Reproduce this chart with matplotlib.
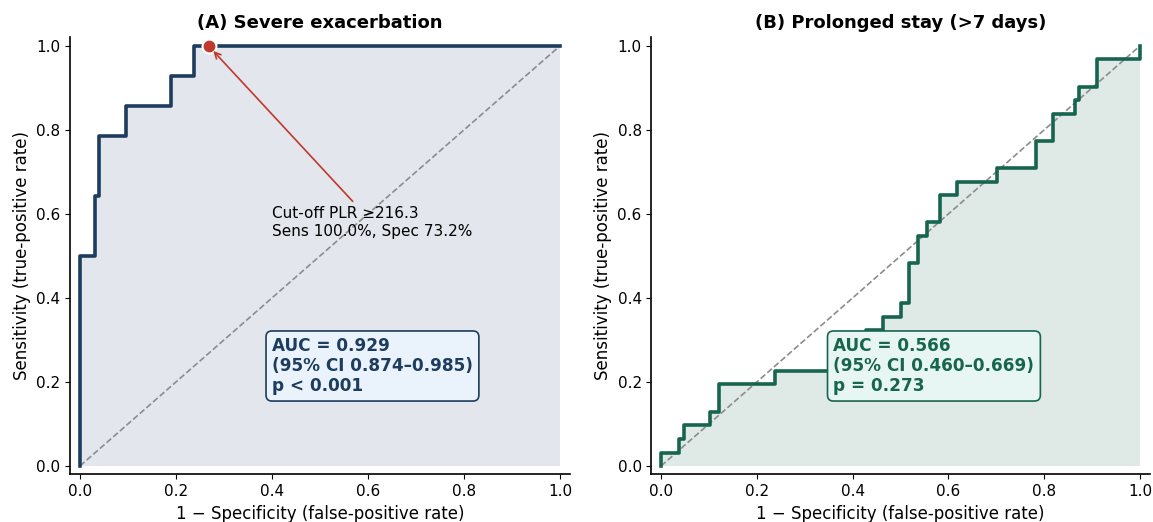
#!/usr/bin/env python3
import numpy as np
from matplotlib import pyplot as plt

# ROC steps (false-positive rate, sensitivity)
fpr_a = [0.0, 0.0, 0.031, 0.031, 0.039, 0.039, 0.096, 0.096, 0.190, 0.190, 0.237, 0.237, 1.0]
tpr_a = [0.0, 0.5, 0.5, 0.643, 0.643, 0.786, 0.786, 0.857, 0.857, 0.929, 0.929, 1.0, 1.0]

fpr_b = [0.0, 0.0, 0.038, 0.038, 0.047, 0.047, 0.102, 0.102, 0.122, 0.122, 0.238, 0.238,
         0.429, 0.429, 0.464, 0.464, 0.501, 0.501, 0.518, 0.518, 0.537, 0.537, 0.555, 0.555,
         0.582, 0.582, 0.619, 0.619, 0.702, 0.702, 0.783, 0.783, 0.819, 0.819, 0.864, 0.864,
         0.873, 0.873, 0.910, 0.910, 1.0, 1.0]
tpr_b = [0.0, 0.032, 0.032, 0.065, 0.065, 0.097, 0.097, 0.129, 0.129, 0.194, 0.194, 0.226,
         0.226, 0.323, 0.323, 0.355, 0.355, 0.387, 0.387, 0.484, 0.484, 0.548, 0.548, 0.581,
         0.581, 0.645, 0.645, 0.677, 0.677, 0.710, 0.710, 0.774, 0.774, 0.839, 0.839, 0.871,
         0.871, 0.903, 0.903, 0.968, 0.968, 1.0]

cut_fpr, cut_tpr = 0.268, 1.0
titles = ['(A) Severe exacerbation', '(B) Prolonged stay (>7 days)']
auc_text = ['AUC = 0.929\n(95% CI 0.874\u20130.985)\np < 0.001',
            'AUC = 0.566\n(95% CI 0.460\u20130.669)\np = 0.273']
colors = ['#1d3c5e', '#17654f']
fills = ['#e3e6ec', '#dfe9e6']
box_faces = ['#eaf3fb', '#e7f6f2']
box_x = [0.40, 0.36]

fig = plt.figure(figsize=(11.53, 5.22), dpi=100)
ax1 = fig.add_axes([0.061, 0.0912, 0.433, 0.837])
ax2 = fig.add_axes([0.565, 0.0912, 0.432, 0.837])

for i, (ax, fx, ty) in enumerate([(ax1, fpr_a, tpr_a), (ax2, fpr_b, tpr_b)]):
    ax.fill_between(fx, ty, 0, color=fills[i], lw=0, zorder=1)
    ax.plot([0, 1], [0, 1], ls='--', color='#8c8c8c', lw=1.2, zorder=2)
    ax.plot(fx, ty, color=colors[i], lw=2.6, zorder=3)
    ax.set_xlim(-0.02, 1.02)
    ax.set_ylim(-0.02, 1.02)
    ax.set_xticks(np.arange(0, 1.01, 0.2))
    ax.set_yticks(np.arange(0, 1.01, 0.2))
    ax.tick_params(labelsize=11)
    ax.spines['top'].set_visible(False)
    ax.spines['right'].set_visible(False)
    ax.spines['left'].set_linewidth(1.2)
    ax.spines['bottom'].set_linewidth(1.2)
    ax.set_xlabel('1 \u2212 Specificity (false-positive rate)', fontsize=12, labelpad=4)
    ax.set_ylabel('Sensitivity (true-positive rate)', fontsize=12)
    ax.set_title(titles[i], fontsize=13, fontweight='bold', pad=7)
    ax.text(box_x[i], 0.238, auc_text[i], fontsize=12.2, fontweight='bold', color=colors[i],
            ha='left', va='center', zorder=5, linespacing=1.15,
            bbox=dict(boxstyle='round,pad=0.35', fc=box_faces[i], ec=colors[i], lw=1.2))

ax1.plot(cut_fpr, cut_tpr, 'o', color='#c0392b', ms=10, mec='white', mew=1.5, zorder=6)
ax1.annotate('Cut-off PLR \u2265216.3\nSens 100.0%, Spec 73.2%', xy=(cut_fpr, cut_tpr),
             xytext=(0.40, 0.58), fontsize=11, ha='left', va='center', zorder=6,
             arrowprops=dict(arrowstyle='->', color='#c0392b', lw=1.2, shrinkB=5))

fig.savefig('out.png', dpi=100)
